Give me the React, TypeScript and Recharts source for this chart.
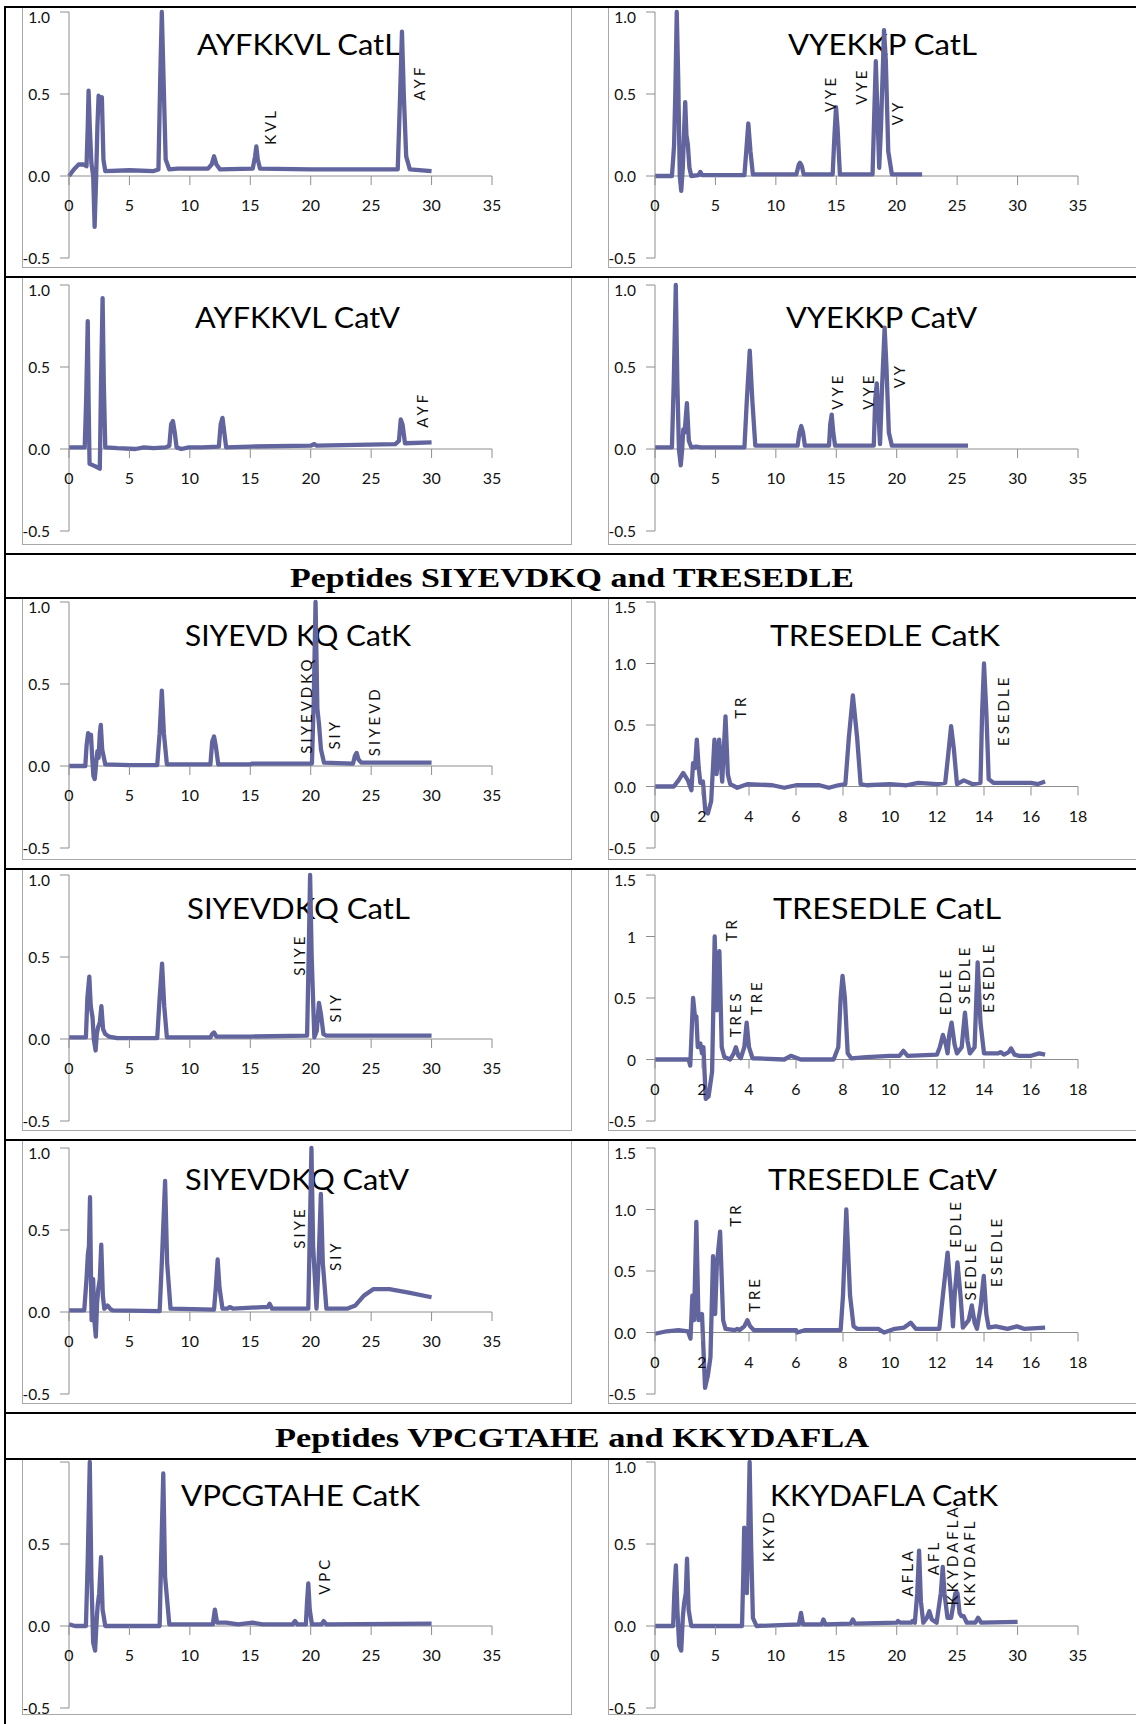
import React from 'react';
import { LineChart, Line, XAxis, YAxis, ReferenceLine, ReferenceDot } from 'recharts';

type Pt = [number, number];
type Tag = { text: string; t: number; v: number };

// retention time (min) vs normalised absorbance
const ayfkkvlCatL: Pt[] = [
  [0, 0], [0.4, 0.04], [0.8, 0.07], [1.2, 0.07], [1.45, 0.06], [1.55, 0.3], [1.62, 0.52], [1.72, 0.3],
  [1.85, 0.08], [2.0, 0.0], [2.12, -0.31], [2.25, 0.0], [2.35, 0.3], [2.45, 0.49], [2.6, 0.46], [2.72, 0.48],
  [2.85, 0.1], [3.0, 0.03], [5, 0.035], [7, 0.03], [7.4, 0.04], [7.55, 0.6], [7.68, 1.0], [7.82, 0.6],
  [8.0, 0.1], [8.3, 0.04], [9, 0.045], [11.5, 0.045], [11.8, 0.07], [12.0, 0.12], [12.2, 0.07], [12.5, 0.04],
  [15.2, 0.045], [15.4, 0.12], [15.5, 0.18], [15.62, 0.1], [15.8, 0.045], [20, 0.04], [27.2, 0.04],
  [27.4, 0.5], [27.55, 0.88], [27.7, 0.5], [27.9, 0.12], [28.2, 0.04], [30, 0.03],
];
const ayfkkvlCatLTags: Tag[] = [
  { text: 'KVL', t: 16.6, v: 0.19 },
  { text: 'AYF', t: 29.0, v: 0.46 },
];

const vyekkpCatL: Pt[] = [
  [0, 0], [1.4, 0.0], [1.5, 0.1], [1.58, 0.19], [1.68, 0.5], [1.8, 1.0], [1.92, 0.6], [2.05, 0.0],
  [2.17, -0.09], [2.3, 0.05], [2.42, 0.3], [2.5, 0.45], [2.6, 0.25], [2.72, 0.19], [2.85, 0.05], [3.0, 0.0],
  [3.6, 0.005], [3.75, 0.025], [3.9, 0.005], [7.4, 0.005], [7.55, 0.15], [7.72, 0.32], [7.9, 0.15],
  [8.1, 0.01], [11.7, 0.01], [11.9, 0.07], [12.0, 0.08], [12.15, 0.06], [12.3, 0.01], [14.7, 0.01],
  [14.85, 0.25], [14.98, 0.42], [15.1, 0.3], [15.3, 0.01], [18.0, 0.01], [18.15, 0.4], [18.27, 0.7],
  [18.4, 0.4], [18.55, 0.05], [18.7, 0.3], [18.95, 0.89], [19.1, 0.7], [19.3, 0.15], [19.6, 0.01], [22.1, 0.01],
];
const vyekkpCatLTags: Tag[] = [
  { text: 'VYE', t: 14.5, v: 0.39 },
  { text: 'VYE', t: 17.05, v: 0.435 },
  { text: 'VY', t: 20.0, v: 0.31 },
];

const ayfkkvlCatV: Pt[] = [
  [0, 0.01], [1.3, 0.01], [1.42, 0.3], [1.55, 0.78], [1.62, 0.3], [1.7, -0.09], [2.0, -0.1], [2.3, -0.11],
  [2.55, -0.12], [2.65, 0.4], [2.78, 0.92], [2.88, 0.4], [3.0, 0.01], [4, 0.005], [5.5, 0.0], [6.2, 0.01],
  [7, 0.005], [8.0, 0.01], [8.3, 0.02], [8.45, 0.15], [8.6, 0.17], [8.75, 0.1], [8.9, 0.01], [9.3, 0.0],
  [9.9, 0.01], [11, 0.01], [12.4, 0.015], [12.55, 0.15], [12.7, 0.19], [12.85, 0.1], [13.0, 0.01],
  [15, 0.015], [20, 0.02], [20.3, 0.03], [20.5, 0.02], [27, 0.03], [27.3, 0.05], [27.45, 0.18],
  [27.6, 0.15], [27.8, 0.035], [30, 0.04],
];
const ayfkkvlCatVTags: Tag[] = [{ text: 'AYF', t: 29.2, v: 0.13 }];

const vyekkpCatV: Pt[] = [
  [0, 0.01], [1.4, 0.01], [1.55, 0.4], [1.72, 1.0], [1.85, 0.4], [1.98, 0.0], [2.13, -0.1], [2.25, 0.0],
  [2.34, 0.12], [2.45, 0.1], [2.64, 0.28], [2.8, 0.05], [3.0, 0.01], [3.4, 0.015], [3.8, 0.01], [7.4, 0.01],
  [7.6, 0.3], [7.84, 0.6], [8.05, 0.3], [8.3, 0.02], [11.8, 0.02], [11.95, 0.1], [12.1, 0.14], [12.25, 0.1],
  [12.4, 0.02], [14.4, 0.02], [14.5, 0.15], [14.62, 0.21], [14.75, 0.1], [14.9, 0.02], [18.1, 0.02],
  [18.22, 0.3], [18.35, 0.4], [18.5, 0.2], [18.62, 0.03], [18.8, 0.4], [19.0, 0.74], [19.15, 0.5],
  [19.35, 0.1], [19.6, 0.02], [25.9, 0.02],
];
const vyekkpCatVTags: Tag[] = [
  { text: 'VYE', t: 15.1, v: 0.24 },
  { text: 'VYE', t: 17.66, v: 0.24 },
  { text: 'VY', t: 20.2, v: 0.37 },
];

const siyevdkqCatK: Pt[] = [
  [0, 0], [1.35, 0.0], [1.45, 0.12], [1.58, 0.2], [1.72, 0.18], [1.82, 0.19], [1.92, 0.05], [2.02, -0.06],
  [2.13, -0.08], [2.25, 0.02], [2.35, 0.09], [2.45, 0.05], [2.55, 0.2], [2.63, 0.25], [2.75, 0.1], [3.0, 0.01],
  [5, 0.005], [7.3, 0.005], [7.5, 0.2], [7.68, 0.46], [7.85, 0.2], [8.1, 0.01], [11.7, 0.01], [11.85, 0.15],
  [12.0, 0.18], [12.15, 0.12], [12.35, 0.01], [15, 0.01], [15.2, 0.015], [18, 0.015], [20.1, 0.015],
  [20.25, 0.4], [20.4, 1.0], [20.55, 0.35], [20.68, 0.26], [20.85, 0.1], [21.1, 0.02], [23.5, 0.015],
  [23.65, 0.06], [23.8, 0.08], [23.95, 0.04], [24.2, 0.02], [30, 0.02],
];
const siyevdkqCatKTags: Tag[] = [
  { text: 'SIYEVDKQ', t: 19.6, v: 0.075 },
  { text: 'SIY', t: 21.95, v: 0.1 },
  { text: 'SIYEVD', t: 25.2, v: 0.06 },
];

const tresedleCatK: Pt[] = [
  [0, 0], [0.8, 0.0], [1.0, 0.05], [1.2, 0.11], [1.4, 0.05], [1.55, -0.03], [1.62, 0.19], [1.7, 0.15],
  [1.78, 0.38], [1.86, 0.15], [1.93, 0.03], [2.04, 0.04], [2.14, -0.2], [2.25, -0.22], [2.39, -0.12],
  [2.53, 0.38], [2.62, 0.1], [2.73, 0.38], [2.86, 0.04], [3.0, 0.57], [3.1, 0.1], [3.2, 0.02], [3.5, -0.01],
  [3.95, 0.02], [5.0, 0.01], [5.5, -0.01], [6.0, 0.01], [7.0, 0.01], [7.4, -0.01], [7.8, 0.01], [8.1, 0.02],
  [8.25, 0.4], [8.42, 0.74], [8.6, 0.4], [8.75, 0.02], [9.0, 0.01], [10.0, 0.02], [10.7, 0.01], [11.2, 0.03],
  [12.0, 0.02], [12.35, 0.03], [12.5, 0.3], [12.6, 0.49], [12.72, 0.3], [12.85, 0.02], [13.14, 0.05],
  [13.5, 0.02], [13.85, 0.03], [13.92, 0.6], [14.0, 1.0], [14.1, 0.6], [14.2, 0.06], [14.4, 0.03],
  [16.0, 0.03], [16.3, 0.02], [16.6, 0.04],
];
const tresedleCatKTags: Tag[] = [
  { text: 'TR', t: 3.6, v: 0.55 },
  { text: 'ESEDLE', t: 14.82, v: 0.33 },
];

const siyevdkqCatL: Pt[] = [
  [0, 0.01], [1.4, 0.01], [1.52, 0.25], [1.68, 0.38], [1.8, 0.2], [1.95, 0.13], [2.05, 0.0], [2.2, -0.07],
  [2.3, 0.03], [2.4, 0.07], [2.55, 0.1], [2.68, 0.2], [2.82, 0.06], [3.0, 0.03], [3.3, 0.015], [4, 0.005],
  [7.3, 0.005], [7.5, 0.25], [7.7, 0.46], [7.88, 0.2], [8.1, 0.01], [11.7, 0.01], [11.85, 0.03], [12.0, 0.04],
  [12.2, 0.015], [15, 0.015], [19.7, 0.02], [19.83, 0.5], [19.95, 1.0], [20.08, 0.5], [20.3, 0.01],
  [20.5, 0.05], [20.68, 0.22], [20.85, 0.15], [21.05, 0.03], [21.3, 0.02], [30, 0.02],
];
const siyevdkqCatLTags: Tag[] = [
  { text: 'SIYE', t: 19.07, v: 0.385 },
  { text: 'SIY', t: 21.98, v: 0.1 },
];

const tresedleCatL: Pt[] = [
  [0, 0], [1.43, 0.0], [1.5, -0.05], [1.62, 0.5], [1.7, 0.35], [1.76, 0.35], [1.82, 0.1], [1.93, 0.13],
  [2.0, 0.05], [2.06, 0.1], [2.16, -0.32], [2.28, -0.3], [2.43, -0.1], [2.54, 1.0], [2.63, 0.4], [2.74, 0.88],
  [2.84, 0.1], [2.95, 0.02], [3.2, 0.0], [3.35, 0.05], [3.44, 0.1], [3.55, 0.03], [3.65, 0.01], [3.8, 0.1],
  [3.9, 0.3], [4.0, 0.1], [4.15, 0.01], [5.5, 0.0], [5.78, 0.03], [6.2, 0.0], [7.6, 0.0], [7.8, 0.1],
  [7.9, 0.5], [7.98, 0.68], [8.08, 0.5], [8.2, 0.05], [8.35, 0.01], [9.0, 0.02], [10.0, 0.03], [10.4, 0.03],
  [10.57, 0.07], [10.75, 0.03], [12.0, 0.04], [12.12, 0.1], [12.25, 0.2], [12.38, 0.12], [12.45, 0.05],
  [12.52, 0.2], [12.62, 0.3], [12.75, 0.12], [12.85, 0.05], [13.05, 0.1], [13.19, 0.38], [13.3, 0.15],
  [13.4, 0.05], [13.6, 0.1], [13.73, 0.79], [13.85, 0.3], [14.0, 0.05], [14.6, 0.05], [14.7, 0.06],
  [14.85, 0.04], [15.05, 0.06], [15.15, 0.09], [15.3, 0.04], [15.5, 0.03], [16.0, 0.03], [16.35, 0.05], [16.6, 0.04],
];
const tresedleCatLTags: Tag[] = [
  { text: 'TR', t: 3.25, v: 0.96 },
  { text: 'TRES', t: 3.39, v: 0.18 },
  { text: 'TRE', t: 4.31, v: 0.36 },
  { text: 'EDLE', t: 12.34, v: 0.36 },
  { text: 'SEDLE', t: 13.17, v: 0.45 },
  { text: 'ESEDLE', t: 14.19, v: 0.38 },
];

const siyevdkqCatV: Pt[] = [
  [0, 0.01], [1.26, 0.01], [1.45, 0.2], [1.56, 0.35], [1.65, 0.4], [1.74, 0.7], [1.82, 0.2], [1.87, -0.05],
  [1.95, 0.1], [2.0, 0.2], [2.1, -0.05], [2.22, -0.15], [2.32, 0.05], [2.42, 0.14], [2.55, 0.2], [2.67, 0.41],
  [2.8, 0.1], [2.92, 0.02], [3.18, 0.04], [3.4, 0.02], [3.6, 0.01], [7.5, 0.005], [7.68, 0.3], [7.95, 0.8],
  [8.12, 0.3], [8.4, 0.02], [12.0, 0.015], [12.15, 0.15], [12.3, 0.32], [12.45, 0.15], [12.7, 0.02],
  [13.1, 0.02], [13.3, 0.03], [13.6, 0.02], [16.0, 0.03], [16.45, 0.03], [16.6, 0.05], [16.8, 0.02],
  [19.8, 0.02], [19.93, 0.5], [20.06, 1.0], [20.2, 0.4], [20.48, 0.02], [20.65, 0.3], [20.84, 0.72],
  [21.0, 0.3], [21.3, 0.02], [23.0, 0.02], [23.7, 0.04], [24.4, 0.1], [25.2, 0.14], [26.5, 0.14],
  [28.0, 0.12], [30.0, 0.09],
];
const siyevdkqCatVTags: Tag[] = [
  { text: 'SIYE', t: 19.07, v: 0.386 },
  { text: 'SIY', t: 21.98, v: 0.25 },
];

const tresedleCatV: Pt[] = [
  [0, -0.01], [0.5, 0.01], [1.0, 0.02], [1.4, 0.01], [1.51, -0.05], [1.59, 0.3], [1.66, 0.1], [1.76, 0.9],
  [1.85, 0.1], [2.0, 0.15], [2.13, -0.45], [2.25, -0.35], [2.36, -0.2], [2.47, 0.62], [2.56, 0.15],
  [2.63, 0.55], [2.77, 0.82], [2.9, 0.1], [3.0, 0.03], [3.4, 0.02], [3.5, 0.03], [3.6, 0.02], [3.8, 0.05],
  [3.93, 0.1], [4.05, 0.05], [4.2, 0.02], [6.0, 0.02], [6.05, 0.0], [6.4, 0.02], [7.9, 0.02], [8.0, 0.3],
  [8.14, 1.0], [8.3, 0.3], [8.45, 0.05], [8.6, 0.03], [9.5, 0.03], [9.75, 0.0], [10.2, 0.03], [10.6, 0.04],
  [10.88, 0.08], [11.1, 0.03], [12.1, 0.03], [12.25, 0.3], [12.45, 0.65], [12.6, 0.3], [12.68, 0.05],
  [12.75, 0.3], [12.87, 0.57], [13.0, 0.3], [13.1, 0.04], [13.35, 0.1], [13.48, 0.22], [13.6, 0.08],
  [13.7, 0.03], [13.85, 0.2], [13.99, 0.46], [14.1, 0.15], [14.2, 0.04], [14.5, 0.05], [15.0, 0.03],
  [15.4, 0.05], [15.7, 0.03], [16.6, 0.04],
];
const tresedleCatVTags: Tag[] = [
  { text: 'TR', t: 3.39, v: 0.86 },
  { text: 'TRE', t: 4.2, v: 0.167 },
  { text: 'EDLE', t: 12.76, v: 0.69 },
  { text: 'SEDLE', t: 13.4, v: 0.26 },
  { text: 'ESEDLE', t: 14.53, v: 0.37 },
];

const vpcgtaheCatK: Pt[] = [
  [0, 0.01], [0.5, 0.0], [1.4, 0.0], [1.55, 0.4], [1.72, 1.0], [1.85, 0.3], [2.0, -0.1], [2.16, -0.15],
  [2.3, 0.05], [2.38, 0.13], [2.5, 0.2], [2.65, 0.42], [2.78, 0.1], [3.0, 0.0], [7.5, 0.0], [7.62, 0.4],
  [7.8, 0.93], [7.95, 0.3], [8.3, 0.01], [11.9, 0.01], [12.07, 0.1], [12.25, 0.02], [13.0, 0.02],
  [14.0, 0.01], [15.2, 0.02], [16, 0.01], [18.5, 0.01], [18.7, 0.03], [18.9, 0.01], [19.6, 0.01],
  [19.7, 0.15], [19.8, 0.26], [19.92, 0.1], [20.1, 0.01], [20.9, 0.01], [21.07, 0.03], [21.3, 0.01], [30, 0.015],
];
const vpcgtaheCatKTags: Tag[] = [{ text: 'VPC', t: 21.1, v: 0.19 }];

const kkydaflaCatK: Pt[] = [
  [0, 0], [1.5, 0.0], [1.6, 0.2], [1.73, 0.37], [1.85, 0.1], [2.0, -0.12], [2.17, -0.15], [2.3, 0.05],
  [2.41, 0.14], [2.55, 0.2], [2.65, 0.41], [2.78, 0.1], [3.0, 0.0], [7.2, 0.0], [7.3, 0.3], [7.38, 0.6],
  [7.5, 0.3], [7.6, 0.2], [7.7, 0.5], [7.83, 1.0], [7.95, 0.5], [8.1, 0.05], [8.4, 0.0], [11.9, 0.01],
  [12.08, 0.08], [12.25, 0.01], [13.8, 0.01], [13.93, 0.04], [14.1, 0.01], [16.2, 0.015], [16.37, 0.04],
  [16.55, 0.015], [20.0, 0.02], [20.1, 0.03], [20.3, 0.02], [21.2, 0.02], [21.3, 0.03], [21.5, 0.02],
  [21.7, 0.2], [21.85, 0.46], [22.0, 0.15], [22.2, 0.02], [22.5, 0.05], [22.7, 0.09], [22.9, 0.04],
  [23.3, 0.02], [23.65, 0.2], [23.81, 0.36], [23.95, 0.2], [24.2, 0.05], [24.5, 0.05], [24.85, 0.2],
  [25.03, 0.2], [25.2, 0.08], [25.35, 0.06], [25.54, 0.06], [25.8, 0.02], [26.5, 0.02], [26.73, 0.05],
  [27.0, 0.02], [30, 0.025],
];
const kkydaflaCatKTags: Tag[] = [
  { text: 'KKYD', t: 9.32, v: 0.39 },
  { text: 'AFLA', t: 20.83, v: 0.18 },
  { text: 'AFL', t: 23.0, v: 0.31 },
  { text: 'KKYDAFLA', t: 24.58, v: 0.127 },
  { text: 'KKYDAFL', t: 25.98, v: 0.12 },
];

const ticks35 = [0, 5, 10, 15, 20, 25, 30, 35];
const ticks18 = [0, 2, 4, 6, 8, 10, 12, 14, 16, 18];
const yTicks10 = [-0.5, 0, 0.5, 1.0];
const yTicks15 = [-0.5, 0, 0.5, 1.0, 1.5];
const yLabels10 = ['-0.5', '0.0', '0.5', '1.0'];
const yLabels15 = ['-0.5', '0.0', '0.5', '1.0', '1.5'];
const yLabels15Short = ['-0.5', '0', '0.5', '1', '1.5'];
const yLabelsNoTop = ['-0.5', '0.0', '0.5', ''];

const headers = ['Peptides SIYEVDKQ and TRESEDLE', 'Peptides VPCGTAHE and KKYDAFLA'];

// layout
const LINE = '#62649e';
const AXIS = '#8e8e8e';
const FRAME = '#a8a8a8';
const FONT = 'Lato, "Open Sans", sans-serif';
const rowTops = [7, 277, 598, 869, 1140, 1459];
const rowEnds = [277, 554, 869, 1140, 1413, 1724];
const plotTops = [12, 285, 602, 875, 1148, 1462];
const titleBase = [55, 328, 646, 919, 1190, 1506];
const plotLefts = [69, 655];
const frameX = [[22, 571], [608, 1160]];
const PLOT_W = 423;
const PLOT_H = 246;
const Y_W = 60;
const M_T = 10;
const M_R = 24;
const M_B = 16;

type PanelCfg = {
  title: string; titleX: number; titleW: number; row: number; col: number;
  data: Pt[]; tags: Tag[]; xMax: number; xTicks: number[];
  yMax: number; yTicks: number[]; yLabels: string[];
};

const panels: PanelCfg[] = [
  { title: 'AYFKKVL CatL', titleX: 197, titleW: 203, row: 0, col: 0, data: ayfkkvlCatL, tags: ayfkkvlCatLTags, xMax: 35, xTicks: ticks35, yMax: 1, yTicks: yTicks10, yLabels: yLabels10 },
  { title: 'VYEKKP CatL', titleX: 788, titleW: 189, row: 0, col: 1, data: vyekkpCatL, tags: vyekkpCatLTags, xMax: 35, xTicks: ticks35, yMax: 1, yTicks: yTicks10, yLabels: yLabels10 },
  { title: 'AYFKKVL CatV', titleX: 195, titleW: 205, row: 1, col: 0, data: ayfkkvlCatV, tags: ayfkkvlCatVTags, xMax: 35, xTicks: ticks35, yMax: 1, yTicks: yTicks10, yLabels: yLabels10 },
  { title: 'VYEKKP CatV', titleX: 786, titleW: 191, row: 1, col: 1, data: vyekkpCatV, tags: vyekkpCatVTags, xMax: 35, xTicks: ticks35, yMax: 1, yTicks: yTicks10, yLabels: yLabels10 },
  { title: 'SIYEVD KQ CatK', titleX: 185, titleW: 226, row: 2, col: 0, data: siyevdkqCatK, tags: siyevdkqCatKTags, xMax: 35, xTicks: ticks35, yMax: 1, yTicks: yTicks10, yLabels: yLabels10 },
  { title: 'TRESEDLE CatK', titleX: 770, titleW: 230, row: 2, col: 1, data: tresedleCatK, tags: tresedleCatKTags, xMax: 18, xTicks: ticks18, yMax: 1.5, yTicks: yTicks15, yLabels: yLabels15 },
  { title: 'SIYEVDKQ CatL', titleX: 187, titleW: 223, row: 3, col: 0, data: siyevdkqCatL, tags: siyevdkqCatLTags, xMax: 35, xTicks: ticks35, yMax: 1, yTicks: yTicks10, yLabels: yLabels10 },
  { title: 'TRESEDLE CatL', titleX: 773, titleW: 228, row: 3, col: 1, data: tresedleCatL, tags: tresedleCatLTags, xMax: 18, xTicks: ticks18, yMax: 1.5, yTicks: yTicks15, yLabels: yLabels15Short },
  { title: 'SIYEVDKQ CatV', titleX: 185, titleW: 224, row: 4, col: 0, data: siyevdkqCatV, tags: siyevdkqCatVTags, xMax: 35, xTicks: ticks35, yMax: 1, yTicks: yTicks10, yLabels: yLabels10 },
  { title: 'TRESEDLE CatV', titleX: 768, titleW: 229, row: 4, col: 1, data: tresedleCatV, tags: tresedleCatVTags, xMax: 18, xTicks: ticks18, yMax: 1.5, yTicks: yTicks15, yLabels: yLabels15 },
  { title: 'VPCGTAHE CatK', titleX: 181, titleW: 239, row: 5, col: 0, data: vpcgtaheCatK, tags: vpcgtaheCatKTags, xMax: 35, xTicks: ticks35, yMax: 1, yTicks: yTicks10, yLabels: yLabelsNoTop },
  { title: 'KKYDAFLA CatK', titleX: 770, titleW: 228, row: 5, col: 1, data: kkydaflaCatK, tags: kkydaflaCatKTags, xMax: 35, xTicks: ticks35, yMax: 1, yTicks: yTicks10, yLabels: yLabels10 },
];

function Panel({ cfg }: { cfg: PanelCfg }) {
  const data = cfg.data.map(([t, v]) => ({ t, v }));
  return (
    <div style={{ position: 'absolute', left: plotLefts[cfg.col] - Y_W, top: plotTops[cfg.row] - M_T }}>
      <LineChart
        width={PLOT_W + Y_W + M_R}
        height={PLOT_H + M_T + M_B}
        data={data}
        margin={{ top: M_T, right: M_R, bottom: M_B, left: 0 }}
      >
        <XAxis dataKey="t" type="number" domain={[0, cfg.xMax]} hide />
        <YAxis
          type="number"
          domain={[-0.5, cfg.yMax]}
          ticks={cfg.yTicks}
          interval={0}
          width={Y_W}
          axisLine={{ stroke: AXIS }}
          tickLine={{ stroke: AXIS }}
          tickSize={9}
          tickMargin={10}
          tick={(p: any) => {
            const i = cfg.yTicks.indexOf(p.payload.value);
            const top = p.payload.value === cfg.yMax;
            return (
              <text x={p.x} y={p.y + (top ? 5 : 0)} textAnchor="end" dominantBaseline="central"
                fontSize={15.5} fontFamily={FONT} fill="#111">
                {cfg.yLabels[i]}
              </text>
            );
          }}
        />
        <ReferenceLine y={0} stroke={AXIS} />
        {cfg.xTicks.map((t) => (
          <ReferenceDot
            key={`xt-${t}`}
            x={t}
            y={0}
            r={0}
            ifOverflow="visible"
            shape={(p: any) => (
              <g>
                <line x1={p.cx} y1={p.cy} x2={p.cx} y2={p.cy + 9} stroke={AXIS} />
                <text x={p.cx} y={p.cy + 35} textAnchor="middle" fontSize={16} fontFamily={FONT} fill="#111">
                  {t}
                </text>
              </g>
            )}
          />
        ))}
        <Line
          type="linear"
          dataKey="v"
          stroke={LINE}
          strokeWidth={4.3}
          strokeLinejoin="round"
          dot={false}
          activeDot={false}
          isAnimationActive={false}
        />
        {cfg.tags.map((tag, i) => (
          <ReferenceDot
            key={`tag-${i}`}
            x={tag.t}
            y={tag.v}
            r={0}
            ifOverflow="visible"
            shape={(p: any) => (
              <text
                x={p.cx}
                y={p.cy}
                transform={`rotate(-90 ${p.cx} ${p.cy})`}
                dominantBaseline="central"
                fontSize={15}
                letterSpacing={3}
                fontFamily={FONT}
                fill="#111"
              >
                {tag.text}
              </text>
            )}
          />
        ))}
      </LineChart>
    </div>
  );
}

export default function App() {
  return (
    <div style={{ position: 'absolute', left: 0, top: 0, width: 1136, height: 1724, background: '#fff', overflow: 'hidden' }}>
      <svg width={1136} height={1724} style={{ position: 'absolute', left: 0, top: 0 }}>
        {panels.map((p, i) => (
          <g key={`f-${i}`}>
            <rect
              x={frameX[p.col][0] + 0.5}
              y={rowTops[p.row] + 0.5}
              width={frameX[p.col][1] - frameX[p.col][0]}
              height={rowEnds[p.row] - rowTops[p.row] - 10}
              fill="none"
              stroke={FRAME}
            />
            <text x={p.titleX} y={titleBase[p.row]} fontSize={28} fontFamily={FONT} fill="#000"
              textLength={p.titleW} lengthAdjust="spacingAndGlyphs">
              {p.title}
            </text>
          </g>
        ))}
      </svg>
      {panels.map((p, i) => (
        <Panel key={i} cfg={p} />
      ))}
      <svg width={1136} height={1724} style={{ position: 'absolute', left: 0, top: 0, pointerEvents: 'none' }}>
        <rect x={4} y={6} width={2} height={1718} fill="#000" />
        {[7, 277, 554, 598, 869, 1140, 1413, 1459].map((y) => (
          <rect key={y} x={4} y={y - 1} width={1132} height={2} fill="#000" />
        ))}
        <text x={290} y={587} fontSize={27} fontWeight="bold" fontFamily='"Liberation Serif", serif'
          textLength={564} lengthAdjust="spacingAndGlyphs">
          {headers[0]}
        </text>
        <text x={275} y={1447} fontSize={27} fontWeight="bold" fontFamily='"Liberation Serif", serif'
          textLength={594} lengthAdjust="spacingAndGlyphs">
          {headers[1]}
        </text>
      </svg>
    </div>
  );
}
